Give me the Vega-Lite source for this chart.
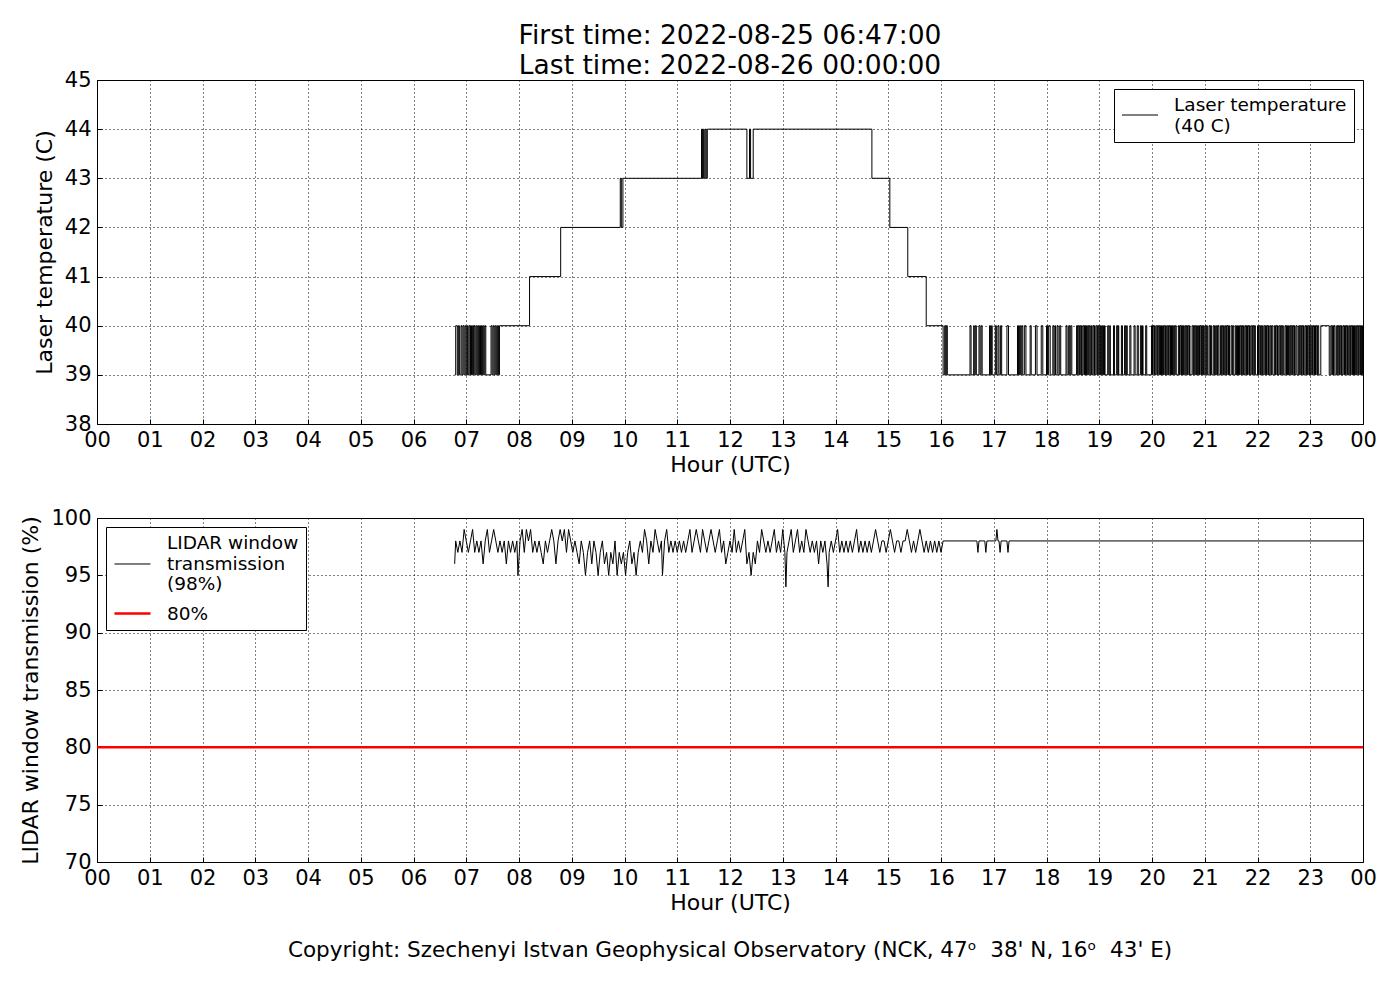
{
  "$schema": "https://vega.github.io/schema/vega-lite/v6.json",
  "padding": {"left": 19, "top": 23, "right": 5, "bottom": 5},
  "bounds": "flush",
  "spacing": 94,
  "title": {
    "text": ["First time: 2022-08-25 06:47:00", "Last time: 2022-08-26 00:00:00"],
    "fontSize": 26.5, "lineHeight": 30, "fontWeight": "normal", "color": "black",
    "frame": "group", "anchor": "middle", "offset": -11
  },
  "resolve": {
    "scale": {"x": "independent", "y": "independent", "color": "independent", "strokeWidth": "independent"},
    "legend": {"color": "independent", "strokeWidth": "independent"}
  },
  "vconcat": [
    {
      "width": 1266,
      "height": 344,
      "data": {
        "values": "h,t\n6.78,39\n6.80,40\n6.83,39\n6.85,40\n6.87,39\n6.90,40\n6.92,39\n6.94,40\n6.96,39\n6.98,40\n7.00,39\n7.02,40\n7.03,39\n7.05,40\n7.07,39\n7.08,40\n7.10,39\n7.12,40\n7.14,39\n7.15,40\n7.17,39\n7.19,40\n7.21,39\n7.23,40\n7.25,39\n7.27,40\n7.29,39\n7.31,40\n7.33,39\n7.35,40\n7.37,39\n7.47,40\n7.49,39\n7.51,40\n7.53,39\n7.55,40\n7.57,39\n7.59,40\n7.61,39\n7.63,40\n8.20,41\n8.79,42\n9.92,43\n9.94,42\n9.97,43\n11.46,44\n11.48,43\n11.50,44\n11.51,43\n11.53,44\n11.55,43\n11.57,44\n12.32,43\n12.37,44\n12.39,43\n12.44,44\n14.69,43\n15.03,42\n15.37,41\n15.72,40\n16.04,39\n16.07,40\n16.09,39\n16.10,40\n16.12,39\n16.55,40\n16.57,39\n16.62,40\n16.63,39\n16.65,40\n16.67,39\n16.72,40\n16.74,39\n16.76,40\n16.78,39\n16.92,40\n16.94,39\n16.96,40\n16.97,39\n17.03,40\n17.05,39\n17.08,40\n17.10,39\n17.13,40\n17.15,39\n17.25,40\n17.28,39\n17.45,40\n17.47,39\n17.49,40\n17.51,39\n17.53,40\n17.55,39\n17.58,40\n17.61,39\n17.69,40\n17.71,39\n17.79,40\n17.82,39\n17.90,40\n17.93,39\n18.00,40\n18.02,39\n18.04,40\n18.07,39\n18.12,40\n18.14,39\n18.16,40\n18.17,39\n18.20,40\n18.22,39\n18.25,40\n18.27,39\n18.37,40\n18.39,39\n18.42,40\n18.44,39\n18.46,40\n18.48,39\n18.57,40\n18.59,39\n18.60,40\n18.62,39\n18.63,40\n18.65,39\n18.66,40\n18.67,39\n18.69,40\n18.71,39\n18.72,40\n18.74,39\n18.75,40\n18.76,39\n18.78,40\n18.80,39\n18.81,40\n18.83,39\n18.85,40\n18.86,39\n18.88,40\n18.90,39\n18.91,40\n18.92,39\n18.94,40\n18.96,39\n18.97,40\n18.99,39\n19.00,40\n19.02,39\n19.03,40\n19.04,39\n19.06,40\n19.08,39\n19.10,40\n19.11,39\n19.16,40\n19.18,39\n19.20,40\n19.21,39\n19.27,40\n19.29,39\n19.33,40\n19.35,39\n19.36,40\n19.37,39\n19.42,40\n19.44,39\n19.48,40\n19.50,39\n19.52,40\n19.53,39\n19.58,40\n19.60,39\n19.66,40\n19.68,39\n19.72,40\n19.74,39\n19.78,40\n19.80,39\n19.82,40\n19.83,39\n19.88,40\n19.90,39\n19.99,40\n20.01,39\n20.02,40\n20.04,39\n20.05,40\n20.06,39\n20.08,40\n20.10,39\n20.11,40\n20.13,39\n20.14,40\n20.16,39\n20.17,40\n20.18,39\n20.20,40\n20.22,39\n20.23,40\n20.25,39\n20.26,40\n20.27,39\n20.29,40\n20.31,39\n20.32,40\n20.34,39\n20.35,40\n20.37,39\n20.38,40\n20.39,39\n20.41,40\n20.43,39\n20.44,40\n20.46,39\n20.50,40\n20.52,39\n20.53,40\n20.55,39\n20.56,40\n20.58,39\n20.59,40\n20.60,39\n20.62,40\n20.64,39\n20.65,40\n20.67,39\n20.68,40\n20.70,39\n20.71,40\n20.72,39\n20.76,40\n20.78,39\n20.79,40\n20.81,39\n20.82,40\n20.84,39\n20.85,40\n20.86,39\n20.88,40\n20.90,39\n20.91,40\n20.93,39\n20.94,40\n20.96,39\n20.97,40\n20.98,39\n21.00,40\n21.02,39\n21.03,40\n21.05,39\n21.08,40\n21.10,39\n21.11,40\n21.13,39\n21.16,40\n21.18,39\n21.19,40\n21.20,39\n21.22,40\n21.24,39\n21.25,40\n21.27,39\n21.30,40\n21.32,39\n21.33,40\n21.35,39\n21.36,40\n21.37,39\n21.39,40\n21.41,39\n21.42,40\n21.44,39\n21.45,40\n21.47,39\n21.50,40\n21.52,39\n21.53,40\n21.55,39\n21.58,40\n21.60,39\n21.61,40\n21.62,39\n21.64,40\n21.66,39\n21.67,40\n21.69,39\n21.70,40\n21.72,39\n21.73,40\n21.74,39\n21.76,40\n21.78,39\n21.79,40\n21.81,39\n21.82,40\n21.84,39\n21.85,40\n21.86,39\n21.88,40\n21.90,39\n21.91,40\n21.93,39\n21.94,40\n21.96,39\n22.00,40\n22.02,39\n22.03,40\n22.05,39\n22.06,40\n22.08,39\n22.09,40\n22.10,39\n22.12,40\n22.14,39\n22.15,40\n22.17,39\n22.18,40\n22.20,39\n22.21,40\n22.22,39\n22.24,40\n22.26,39\n22.27,40\n22.29,39\n22.32,40\n22.34,39\n22.35,40\n22.37,39\n22.38,40\n22.39,39\n22.41,40\n22.43,39\n22.44,40\n22.46,39\n22.47,40\n22.49,39\n22.52,40\n22.54,39\n22.55,40\n22.57,39\n22.58,40\n22.59,39\n22.61,40\n22.63,39\n22.64,40\n22.66,39\n22.67,40\n22.69,39\n22.70,40\n22.71,39\n22.73,40\n22.75,39\n22.78,40\n22.80,39\n22.81,40\n22.83,39\n22.84,40\n22.86,39\n22.87,40\n22.88,39\n22.90,40\n22.92,39\n22.93,40\n22.95,39\n22.96,40\n22.98,39\n22.99,40\n23.00,39\n23.02,40\n23.04,39\n23.05,40\n23.07,39\n23.08,40\n23.10,39\n23.11,40\n23.13,39\n23.14,40\n23.16,39\n23.20,40\n23.36,39\n23.39,40\n23.41,39\n23.42,40\n23.44,39\n23.45,40\n23.47,39\n23.50,40\n23.52,39\n23.53,40\n23.55,39\n23.56,40\n23.58,39\n23.59,40\n23.60,39\n23.62,40\n23.64,39\n23.65,40\n23.67,39\n23.68,40\n23.70,39\n23.71,40\n23.72,39\n23.74,40\n23.76,39\n23.77,40\n23.79,39\n23.80,40\n23.82,39\n23.83,40\n23.84,39\n23.86,40\n23.88,39\n23.89,40\n23.91,39\n23.92,40\n23.94,39\n23.95,40\n23.96,39\n23.97,40\n23.99,39\n24.00,39",
        "format": {"type": "csv", "parse": {"h": "number", "t": "number"}}
      },
      "mark": {"type": "line", "interpolate": "step-after", "strokeWidth": 1, "clip": true},
      "encoding": {
        "x": {
          "field": "h", "type": "quantitative",
          "scale": {"domain": [0, 24], "nice": false},
          "axis": {"values": [0,1,2,3,4,5,6,7,8,9,10,11,12,13,14,15,16,17,18,19,20,21,22,23,24],
                   "labelExpr": "datum.value == 24 ? '00' : format(datum.value, '02d')",
                   "title": "Hour (UTC)"}
        },
        "y": {
          "field": "t", "type": "quantitative",
          "scale": {"domain": [38, 45], "nice": false, "zero": false},
          "axis": {"values": [38,39,40,41,42,43,44,45], "title": "Laser temperature (C)"}
        },
        "color": {
          "datum": "Laser temperature|(40 C)", "type": "nominal",
          "scale": {"domain": ["Laser temperature|(40 C)"], "range": ["black"]},
          "legend": {"orient": "top-right", "offset": 9, "title": null,
                     "labelExpr": "split(datum.label, '|')", "labelBaseline": "bottom",
                     "strokeColor": "black", "fillColor": "white", "padding": 7,
                     "symbolType": "stroke", "symbolSize": 1300, "symbolStrokeWidth": 1,
                     "labelFontSize": 18.5, "labelOffset": 15, "labelLimit": 400}
        }
      }
    },
    {
      "width": 1266,
      "height": 344,
      "title": {
        "text": "Copyright: Szechenyi Istvan Geophysical Observatory (NCK, 47ᵒ\u00a0\u00a038' N, 16ᵒ\u00a0\u00a043' E)",
        "orient": "bottom", "frame": "group", "anchor": "middle", "offset": 27,
        "fontSize": 21.5, "fontWeight": "normal", "color": "black"
      },
      "encoding": {
        "x": {
          "field": "h", "type": "quantitative",
          "scale": {"domain": [0, 24], "nice": false},
          "axis": {"values": [0,1,2,3,4,5,6,7,8,9,10,11,12,13,14,15,16,17,18,19,20,21,22,23,24],
                   "labelExpr": "datum.value == 24 ? '00' : format(datum.value, '02d')",
                   "title": "Hour (UTC)"}
        },
        "y": {
          "field": "v", "type": "quantitative",
          "scale": {"domain": [70, 100], "nice": false, "zero": false},
          "axis": {"values": [70,75,80,85,90,95,100], "title": "LIDAR window transmission (%)"}
        }
      },
      "layer": [
        {
          "data": {
            "values": "h,v\n6.78,96\n6.80,98\n6.84,97\n6.88,98\n6.92,97\n6.96,99\n7.00,98\n7.04,97\n7.08,98\n7.12,99\n7.16,97\n7.20,98\n7.24,97\n7.28,98\n7.32,96\n7.36,98\n7.40,99\n7.44,97\n7.48,98\n7.52,99\n7.56,98\n7.60,97\n7.64,98\n7.68,97\n7.72,98\n7.76,96\n7.80,98\n7.84,97\n7.88,98\n7.92,97\n7.96,98\n7.98,95\n8.02,98\n8.06,99\n8.10,97\n8.14,99\n8.18,98\n8.22,99\n8.26,97\n8.30,98\n8.34,97\n8.38,98\n8.42,97\n8.46,96\n8.50,98\n8.54,97\n8.58,98\n8.62,99\n8.66,98\n8.70,96\n8.74,98\n8.78,99\n8.82,98\n8.86,99\n8.90,97\n8.94,99\n8.98,98\n9.02,97\n9.06,98\n9.10,97\n9.14,96\n9.18,98\n9.22,97\n9.26,95\n9.30,97\n9.34,98\n9.38,96\n9.42,98\n9.46,97\n9.50,95\n9.54,97\n9.58,98\n9.62,96\n9.66,97\n9.70,95\n9.74,97\n9.78,96\n9.82,98\n9.86,95\n9.90,97\n9.94,96\n9.98,97\n10.02,95\n10.06,97\n10.10,98\n10.14,96\n10.18,97\n10.22,95\n10.26,97\n10.30,98\n10.34,97\n10.38,99\n10.42,98\n10.46,96\n10.50,98\n10.54,97\n10.58,99\n10.62,98\n10.66,97\n10.70,98\n10.72,95\n10.76,98\n10.80,99\n10.84,97\n10.88,98\n10.92,97\n10.96,98\n11.00,97\n11.04,98\n11.08,97\n11.12,98\n11.16,97\n11.20,98\n11.24,99\n11.28,97\n11.32,98\n11.36,99\n11.40,98\n11.44,97\n11.48,99\n11.52,98\n11.56,97\n11.60,98\n11.64,99\n11.68,98\n11.72,97\n11.76,98\n11.80,99\n11.84,97\n11.88,98\n11.92,96\n11.96,97\n12.00,98\n12.04,97\n12.08,99\n12.12,97\n12.16,98\n12.20,97\n12.24,98\n12.28,99\n12.32,96\n12.36,97\n12.40,95\n12.44,97\n12.48,96\n12.52,98\n12.56,97\n12.60,99\n12.64,98\n12.68,97\n12.72,98\n12.76,97\n12.80,98\n12.84,99\n12.88,97\n12.92,98\n12.96,97\n13.00,99\n13.04,97\n13.06,94\n13.08,97\n13.12,98\n13.16,99\n13.20,97\n13.24,98\n13.28,99\n13.32,97\n13.36,98\n13.40,97\n13.44,99\n13.48,98\n13.52,97\n13.56,98\n13.60,97\n13.64,98\n13.68,96\n13.72,98\n13.76,97\n13.80,98\n13.84,96\n13.86,94\n13.88,97\n13.92,98\n13.96,97\n14.00,98\n14.04,99\n14.08,97\n14.12,98\n14.16,97\n14.20,98\n14.24,97\n14.28,98\n14.32,97\n14.36,98\n14.40,99\n14.44,97\n14.48,98\n14.52,97\n14.56,98\n14.60,97\n14.64,98\n14.68,97\n14.72,98\n14.76,99\n14.80,98\n14.84,97\n14.88,98\n14.92,98\n14.96,97\n15.00,98\n15.04,99\n15.08,98\n15.12,97\n15.16,98\n15.20,98\n15.24,97\n15.28,98\n15.32,98\n15.36,99\n15.40,98\n15.44,97\n15.48,98\n15.52,97\n15.56,98\n15.60,99\n15.64,98\n15.68,97\n15.72,98\n15.76,97\n15.80,98\n15.84,97\n15.88,98\n15.92,97\n15.96,98\n16.00,97\n16.04,98\n16.68,98\n16.70,97\n16.72,98\n16.83,98\n16.85,97\n16.87,98\n17.04,98\n17.06,99\n17.08,98\n17.10,98\n17.12,97\n17.14,98\n17.25,98\n17.27,97\n17.29,98\n24.00,98",
            "format": {"type": "csv", "parse": {"h": "number", "v": "number"}}
          },
          "mark": {"type": "line", "clip": true},
          "encoding": {
            "color": {
              "datum": "LIDAR window|transmission|(98%)", "type": "nominal",
              "scale": {"domain": ["LIDAR window|transmission|(98%)", "80%"], "range": ["black", "red"]},
              "legend": {"orient": "top-left", "offset": 9, "title": null,
                         "labelExpr": "split(datum.label, '|')",
                         "strokeColor": "black", "fillColor": "white", "padding": 7,
                         "symbolType": "stroke", "symbolSize": 1300,
                         "labelFontSize": 18.5, "labelOffset": 15, "labelLimit": 400, "rowPadding": -3,
                         "encode": {
                           "symbols": {"update": {"shape": {"signal": "datum.value == '80%' ? 'M-1,0L1,0' : 'M-1,0.61L1,0.61'"}}},
                           "labels": {"update": {"baseline": {"signal": "datum.value == '80%' ? 'middle' : 'bottom'"}}}
                         }}
            },
            "strokeWidth": {
              "datum": "LIDAR window|transmission|(98%)", "type": "ordinal",
              "scale": {"domain": ["LIDAR window|transmission|(98%)", "80%"], "range": [1, 2.5]},
              "legend": {"orient": "top-left", "offset": 9, "title": null,
                         "labelExpr": "split(datum.label, '|')",
                         "strokeColor": "black", "fillColor": "white", "padding": 7,
                         "symbolType": "stroke", "symbolSize": 1300,
                         "labelFontSize": 18.5, "labelOffset": 15, "labelLimit": 400, "rowPadding": -3,
                         "encode": {
                           "symbols": {"update": {"shape": {"signal": "datum.value == '80%' ? 'M-1,0L1,0' : 'M-1,0.61L1,0.61'"}}},
                           "labels": {"update": {"baseline": {"signal": "datum.value == '80%' ? 'middle' : 'bottom'"}}}
                         }}
            }
          }
        },
        {
          "data": {"values": [{"h": 0, "v": 80}, {"h": 24, "v": 80}]},
          "mark": {"type": "line"},
          "encoding": {
            "color": {"datum": "80%", "type": "nominal"},
            "strokeWidth": {"datum": "80%", "type": "ordinal"}
          }
        }
      ]
    }
  ],
  "config": {
    "font": "DejaVu Sans",
    "view": {"stroke": "black", "strokeWidth": 1},
    "axis": {
      "labelFont": "DejaVu Sans", "labelFontSize": 21, "labelColor": "black",
      "labelFlush": false, "labelOverlap": false,
      "titleFont": "DejaVu Sans", "titleFontSize": 22, "titleFontWeight": "normal", "titleColor": "black",
      "gridColor": "black", "gridDash": [1, 3], "gridOpacity": 1, "gridWidth": 1,
      "domain": false, "tickColor": "black", "tickSize": -5, "labelPadding": 10, "titlePadding": 4
    },
    "axisY": {"labelPadding": 11, "titlePadding": 8},
    "legend": {"labelFont": "DejaVu Sans", "labelColor": "black"},
    "title": {"font": "DejaVu Sans"}
  }
}
